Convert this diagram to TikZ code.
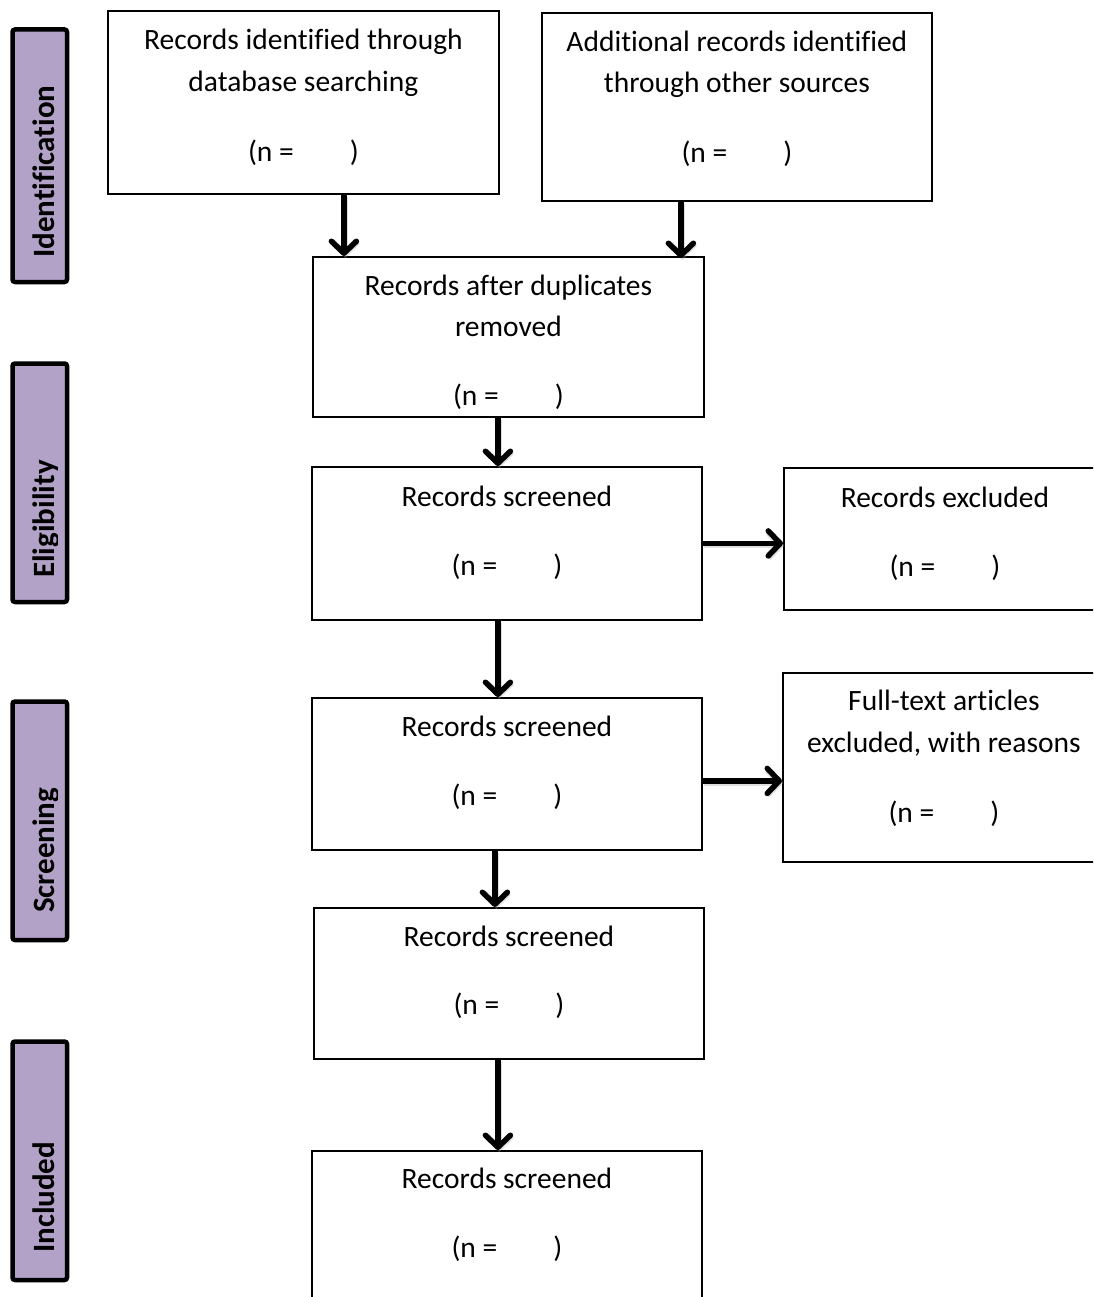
\documentclass[tikz,border=0pt]{standalone}
\usepackage{fontspec}
\setmainfont{Carlito}[Ligatures=CommonOff]
\usetikzlibrary{arrows.meta,calc}
\definecolor{barpurple}{HTML}{B3A2C7}
\begin{document}
\begin{tikzpicture}[x=1pt,y=-1pt,
  box/.style={draw=black, line width=1.8pt, rectangle, inner sep=0pt, anchor=north west},
  ln/.style={anchor=base, inner sep=0pt, font=\fontsize{29.5}{34}\selectfont},
  bar/.style={draw=black, line width=4.5pt, fill=barpurple, rounded corners=2.5pt, rectangle, inner sep=0pt, anchor=north west},
  bartxt/.style={anchor=base west, rotate=90, inner sep=0pt, font=\bfseries\fontsize{31}{36}\selectfont},
  arr/.style={line width=5.5pt, -{Straight Barb[length=12pt,width=25pt,line cap=round,line join=round]}},
  arrshadow/.style={line width=6pt, draw=black!35, opacity=0.35, transform canvas={shift={(1.5pt,-2pt)}}, -{Straight Barb[length=12pt,width=25pt]}}
]
\useasboundingbox (0,0) rectangle (1093,1297);
\clip (0,0) rectangle (1093,1297);
\fill[white] (0,0) rectangle (1093,1297);

% phase bars
\node[bar, minimum width=54.5, minimum height=252.5] (b1) at (10.25,27.25) {};
\node[bar, minimum width=54.5, minimum height=238.5] (b2) at (10.25,361.25) {};
\node[bar, minimum width=54.5, minimum height=238.5] (b3) at (10.25,699.25) {};
\node[bar, minimum width=54.5, minimum height=238.5] (b4) at (10.25,1039.25) {};
\begin{scope}
\clip (0,0) rectangle (57,1297);
\node[bartxt] (t1) at (54,258) {Identification};
\node[bartxt] (t2) at (54,578) {Eligibility};
\node[bartxt] (t3) at (54,913) {Screening};
\node[bartxt] (t4) at (54,1253) {Included};
\end{scope}

% boxes
\node[box, minimum width=391, minimum height=183] (A) at (107,10) {};
\node[box, minimum width=390, minimum height=188] (B) at (541,12) {};
\node[box, minimum width=391, minimum height=160] (C) at (312,256) {};
\node[box, minimum width=390, minimum height=153] (D) at (311,466) {};
\node[box, minimum width=322, minimum height=142] (E) at (783,467) {};
\node[box, minimum width=390, minimum height=152] (F) at (311,697) {};
\node[box, minimum width=322, minimum height=189] (G) at (782,672) {};
\node[box, minimum width=390, minimum height=151] (H) at (313,907) {};
\node[box, minimum width=390, minimum height=160] (I) at (311,1150) {};

\newcommand{\nline}{(n =\hspace{56pt})}
% texts
\node[ln] (A1) at ($(A.north)+(0,40)$) {Records identified through};
\node[ln] (A2) at ($(A.north)+(0,82)$) {database searching};
\node[ln] (A3) at ($(A.north)+(0,152)$) {\nline};
\node[ln] (B1) at ($(B.north)+(0,40)$) {Additional records identified};
\node[ln] (B2) at ($(B.north)+(0,81)$) {through other sources};
\node[ln] (B3) at ($(B.north)+(0,151)$) {\nline};
\node[ln] (C1) at ($(C.north)+(0,39)$) {Records after duplicates};
\node[ln] (C2) at ($(C.north)+(0,80)$) {removed};
\node[ln] (C3) at ($(C.north)+(0,149)$) {\nline};
\node[ln] (D1) at ($(D.north)+(0,40)$) {Records screened};
\node[ln] (D2) at ($(D.north)+(0,109)$) {\nline};
\node[ln] (E1) at ($(E.north)+(0,40)$) {Records excluded};
\node[ln] (E2) at ($(E.north)+(0,109)$) {\nline};
\node[ln] (F1) at ($(F.north)+(0,39)$) {Records screened};
\node[ln] (F2) at ($(F.north)+(0,108)$) {\nline};
\node[ln] (G1) at ($(G.north)+(0,38)$) {Full-text articles};
\node[ln] (G2) at ($(G.north)+(0,80)$) {excluded, with reasons};
\node[ln] (G3) at ($(G.north)+(0,150)$) {\nline};
\node[ln] (H1) at ($(H.north)+(0,39)$) {Records screened};
\node[ln] (H2) at ($(H.north)+(0,107)$) {\nline};
\node[ln] (I1) at ($(I.north)+(0,38)$) {Records screened};
\node[ln] (I2) at ($(I.north)+(0,107)$) {\nline};

% connectors
\foreach \s in {arrshadow,arr}{
\draw[\s] ($(A.south)+(40.5,0)$) -- ($(C.north)+(-164.5,0)$);
\draw[\s] ($(B.south)+(-56,0)$) -- ($(C.north)+(172.5,2)$);
\draw[\s] ($(C.south)+(-10.5,0)$) -- ($(D.north)+(-9,0)$);
\draw[\s] (D.east) -- (D.east -| E.west);
\draw[\s] ($(D.south)+(-9,0)$) -- ($(F.north)+(-9,0)$);
\draw[\s] ($(F.east)+(0,7)$) -- ($(F.east -| G.west)+(0,7)$);
\draw[\s] ($(F.south)+(-12,0)$) -- ($(H.north)+(-14,0)$);
\draw[\s] ($(H.south)+(-11,0)$) -- ($(I.north)+(-9,0)$);
}
\end{tikzpicture}
\end{document}
